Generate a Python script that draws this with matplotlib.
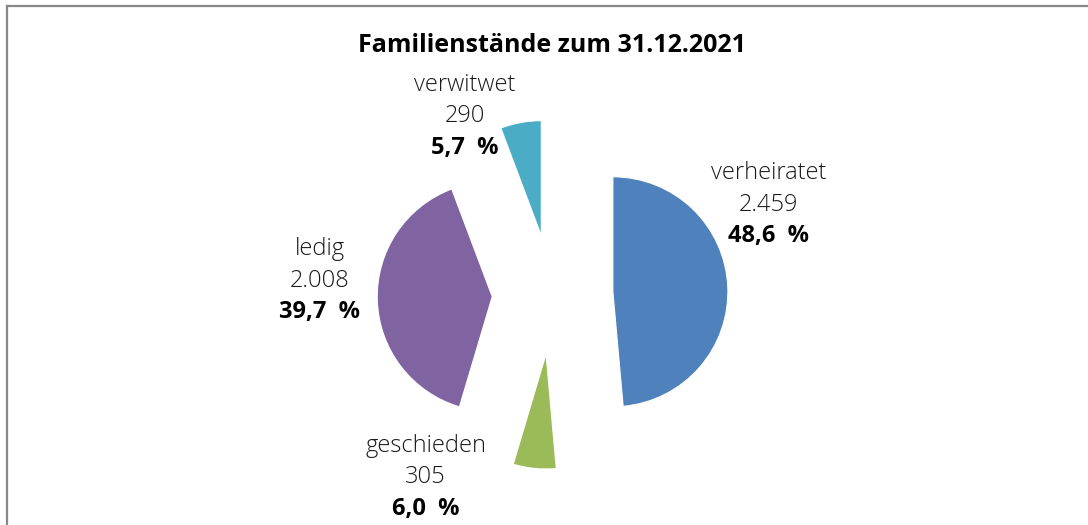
import matplotlib
matplotlib.use('Agg')
import matplotlib.pyplot as plt
from matplotlib.lines import Line2D

# Daten: Familienstaende zum 31.12.2021
kategorien = ['verheiratet', 'geschieden', 'ledig', 'verwitwet']
anzahl = [2459, 305, 2008, 290]
anzahl_text = ['2.459', '305', '2.008', '290']
prozent_text = ['48,6 %', '6,0 %', '39,7 %', '5,7 %']
farben = ['#4F81BD', '#9BBB59', '#8064A2', '#4BACC6']

# Position der Beschriftungen (relativ zur Kreismitte, in Radien)
label_pos = [(1.88, 0.78), (-1.10, -1.59), (-2.02, 0.12), (-0.76, 1.55)]

plt.rcParams['font.family'] = ['Open Sans', 'DejaVu Sans']

fig = plt.figure(figsize=(10.88, 5.25), dpi=100)
ax = fig.add_axes([0, 0, 1, 1])

ax.pie(anzahl, colors=farben, startangle=90, counterclock=False,
       explode=[0.53, 0.52, 0.52, 0.52], radius=1,
       wedgeprops=dict(edgecolor='white', linewidth=0.8))

# Achsen so skalieren, dass 1 Radius = 115 px und Mitte bei (552, 294.5)
r_px = 115.0
cx, cy = 552.0, 294.5
ax.set_xlim(-cx / r_px, (1088 - cx) / r_px)
ax.set_ylim((cy - 525) / r_px, cy / r_px)
ax.set_aspect('auto')
ax.axis('off')

lh = 31.5 / r_px  # Zeilenabstand
for (x, y), name, n, p in zip(label_pos, kategorien, anzahl_text, prozent_text):
    ax.text(x, y + lh, name, ha='center', va='center', fontsize=17,
            fontweight='light', color='#1a1a1a')
    ax.text(x, y, n, ha='center', va='center', fontsize=17,
            fontweight='light', color='#1a1a1a')
    ax.text(x, y - lh, p.replace(' ', '  '), ha='center', va='center',
            fontsize=17, fontweight='bold', color='black')

fig.text(552 / 1088, 1 - 45 / 525, 'Familienstände zum 31.12.2021',
         ha='center', va='center', fontsize=18, fontweight='bold')

# Rahmen oben und links
fig.add_artist(Line2D([6.5 / 1088, 1], [1 - 5.5 / 525, 1 - 5.5 / 525],
                      color='#888888', linewidth=1.6))
fig.add_artist(Line2D([6.5 / 1088, 6.5 / 1088], [0, 1 - 5.5 / 525],
                      color='#888888', linewidth=1.6))

plt.savefig('out.png', dpi=100)
